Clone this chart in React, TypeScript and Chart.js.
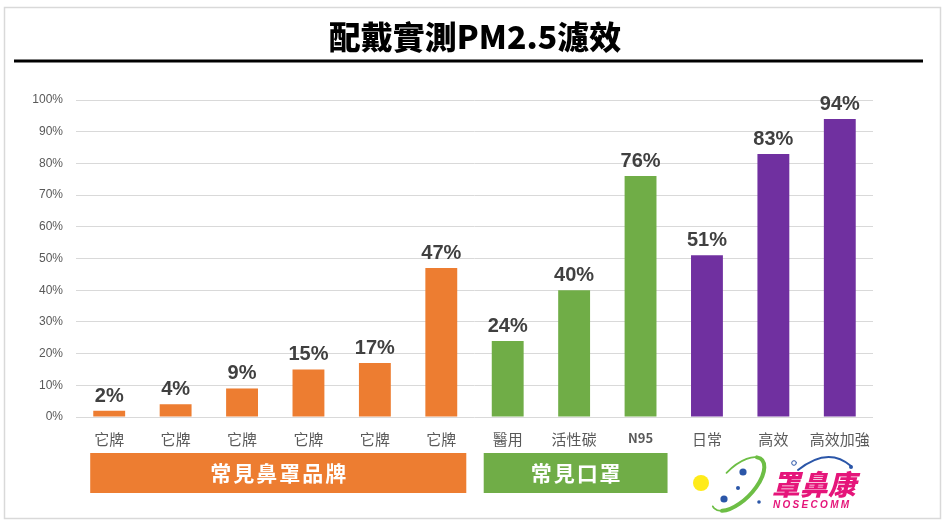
import React, { useEffect, useRef } from 'react';
import { Chart, registerables } from 'chart.js';

Chart.register(...registerables);

const title = '配戴實測PM2.5濾效';
const categories = ['它牌', '它牌', '它牌', '它牌', '它牌', '它牌', '醫用', '活性碳', 'N95', '日常', '高效', '高效加強'];
const values = [2, 4, 9, 15, 17, 47, 24, 40, 76, 51, 83, 94];
const ORANGE = '#ED7D31';
const GREEN = '#70AD47';
const PURPLE = '#7030A0';
const barColors = [ORANGE, ORANGE, ORANGE, ORANGE, ORANGE, ORANGE, GREEN, GREEN, GREEN, PURPLE, PURPLE, PURPLE];
const groupLabels = ['常見鼻罩品牌', '常見口罩'];
const groupStart = [0, 6];
const groupEnd = [5, 8];
const groupColors = [ORANGE, GREEN];
const logoName = '罩鼻康';
const logoLatin = 'NOSECOMM';

const LATIN = "'Liberation Sans', 'Noto Sans CJK TC', sans-serif";
const CJK = "'Noto Sans CJK TC', 'Liberation Sans', sans-serif";

const decorPlugin = {
  id: 'decor',
  beforeDraw(chart: any) {
    const ctx = chart.ctx;
    ctx.save();
    ctx.fillStyle = '#ffffff';
    ctx.fillRect(0, 0, chart.width, chart.height);
    ctx.strokeStyle = '#d9d9d9';
    ctx.lineWidth = 1.5;
    ctx.strokeRect(4.5, 7.5, 936, 511);
    // title
    ctx.fillStyle = '#000000';
    ctx.font = `900 32px ${CJK}`;
    ctx.textAlign = 'center';
    ctx.textBaseline = 'middle';
    ctx.fillText(title, 475, 37);
    ctx.fillRect(14, 59.5, 909, 3);
    ctx.restore();
  },
  afterDatasetsDraw(chart: any) {
    const ctx = chart.ctx;
    const meta = chart.getDatasetMeta(0);
    ctx.save();
    ctx.fillStyle = '#404040';
    ctx.font = `bold 20px ${LATIN}`;
    ctx.textAlign = 'center';
    ctx.textBaseline = 'alphabetic';
    meta.data.forEach((bar: any, i: number) => {
      ctx.fillText(values[i] + '%', bar.x, bar.y - 9);
    });
    ctx.restore();
  },
  afterDraw(chart: any) {
    const ctx = chart.ctx;
    const xs = chart.scales.x;
    ctx.save();
    // group bands
    const padL = [19, 24];
    const padR = [25, 27];
    for (let g = 0; g < groupLabels.length; g++) {
      const l = xs.getPixelForValue(groupStart[g]) - padL[g];
      const r = xs.getPixelForValue(groupEnd[g]) + padR[g];
      ctx.fillStyle = groupColors[g];
      ctx.fillRect(l, 453, r - l, 40);
      ctx.fillStyle = '#ffffff';
      ctx.font = `bold 21px ${CJK}`;
      ctx.textAlign = 'center';
      ctx.textBaseline = 'middle';
      (ctx as any).letterSpacing = '2px';
      ctx.fillText(groupLabels[g], (l + r) / 2 + 1, 473);
      (ctx as any).letterSpacing = '0px';
    }
    // logo
    ctx.fillStyle = '#FFEB1A';
    ctx.beginPath();
    ctx.arc(701, 483, 8, 0, Math.PI * 2);
    ctx.fill();
    ctx.strokeStyle = '#6DBE45';
    ctx.lineCap = 'round';
    ctx.lineWidth = 1.8;
    ctx.beginPath();
    ctx.ellipse(738, 484, 34, 16, -0.8, -0.5 * Math.PI, 1.05 * Math.PI);
    ctx.stroke();
    ctx.lineWidth = 4;
    ctx.beginPath();
    ctx.ellipse(738, 484, 34, 16, -0.8, -0.1 * Math.PI, 0.85 * Math.PI);
    ctx.stroke();
    ctx.fillStyle = '#2B56A8';
    const dots = [[743, 472, 3.6], [738, 488, 2], [724, 499, 3.6], [759, 502, 1.8]];
    dots.forEach(([x, y, r]) => {
      ctx.beginPath();
      ctx.arc(x, y, r, 0, Math.PI * 2);
      ctx.fill();
    });
    ctx.strokeStyle = '#2B56A8';
    ctx.lineWidth = 2;
    ctx.beginPath();
    ctx.moveTo(798, 470);
    ctx.quadraticCurveTo(828, 446, 851, 466);
    ctx.stroke();
    ctx.beginPath();
    ctx.arc(851, 467, 2, 0, Math.PI * 2);
    ctx.fill();
    ctx.lineWidth = 1;
    ctx.beginPath();
    ctx.arc(794, 463, 2.3, 0, Math.PI * 2);
    ctx.stroke();
    ctx.fillStyle = '#E5157A';
    ctx.font = `italic 900 28px ${CJK}`;
    ctx.textAlign = 'left';
    ctx.textBaseline = 'middle';
    ctx.fillText(logoName, 772, 484);
    ctx.font = `italic bold 10px ${LATIN}`;
    (ctx as any).letterSpacing = '2.3px';
    ctx.fillText(logoLatin, 773, 505);
    (ctx as any).letterSpacing = '0px';
    ctx.restore();
  },
};

export default function App() {
  const ref = useRef<HTMLCanvasElement>(null);
  useEffect(() => {
    const chart = new Chart(ref.current as HTMLCanvasElement, {
      type: 'bar',
      data: {
        labels: categories,
        datasets: [
          {
            data: values,
            backgroundColor: barColors,
            barPercentage: 0.48,
            categoryPercentage: 1,
          },
        ],
      },
      options: {
        responsive: false,
        animation: false,
        devicePixelRatio: 1,
        layout: { padding: { top: 100, right: 75, bottom: 0, left: 0 } },
        plugins: { legend: { display: false }, tooltip: { enabled: false } },
        scales: {
          x: {
            grid: { display: false, drawTicks: false },
            border: { display: false },
            afterFit: (s: any) => {
              s.height = 111;
            },
            ticks: {
              padding: 13,
              color: '#595959',
              maxRotation: 0,
              autoSkip: false,
              font: (c: any) => ({
                family: CJK,
                size: c.tick && c.tick.label === 'N95' ? 13 : 15,
                weight: c.tick && c.tick.label === 'N95' ? 'bold' : 'normal',
              }),
            },
          },
          y: {
            min: 0,
            max: 100,
            afterFit: (s: any) => {
              s.width = 76;
            },
            grid: { color: '#d9d9d9', drawTicks: false, lineWidth: 1 },
            border: { display: false },
            ticks: {
              stepSize: 10,
              padding: 13,
              color: '#595959',
              font: { family: LATIN, size: 12 },
              callback: (v: any) => v + '%',
            },
          },
        },
      },
      plugins: [decorPlugin],
    });
    return () => chart.destroy();
  }, []);
  return (
    <div style={{ position: 'fixed', left: 0, top: 0, width: 948, height: 528, background: '#fff' }}>
      <canvas ref={ref} width={948} height={528} style={{ width: 948, height: 528 }} />
    </div>
  );
}
